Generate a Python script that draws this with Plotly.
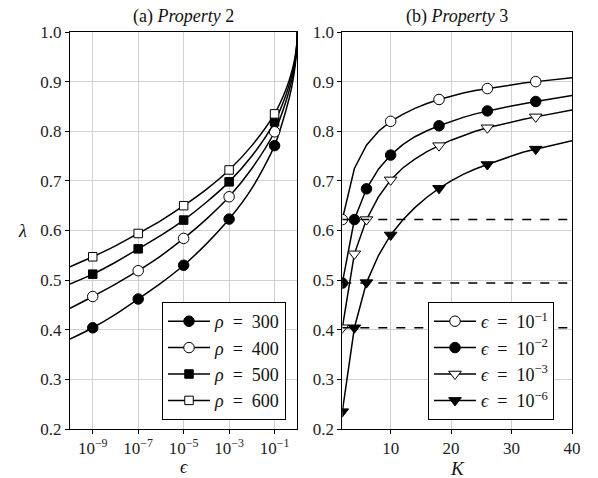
import plotly.graph_objects as go

# ---------------- data: panel (a) ----------------
eps_exp = [-10, -9, -8, -7, -6, -5, -4, -3, -2, -1, -0.5, -0.25, -0.1, -0.02, 0]
rho_labels = ["300", "400", "500", "600"]
lam_rho300 = [0.381, 0.404, 0.431, 0.462, 0.494, 0.530, 0.573, 0.623, 0.685, 0.771, 0.842, 0.888, 0.930, 0.968, 1.0]
lam_rho400 = [0.443, 0.467, 0.492, 0.519, 0.549, 0.584, 0.623, 0.668, 0.725, 0.799, 0.860, 0.901, 0.938, 0.972, 1.0]
lam_rho500 = [0.492, 0.512, 0.536, 0.563, 0.590, 0.621, 0.657, 0.698, 0.750, 0.819, 0.873, 0.911, 0.944, 0.975, 1.0]
lam_rho600 = [0.527, 0.547, 0.569, 0.594, 0.620, 0.650, 0.683, 0.722, 0.771, 0.835, 0.884, 0.919, 0.949, 0.977, 1.0]
marker_exp_a = [-9, -7, -5, -3, -1]
xtick_exp = [-9, -7, -5, -3, -1]

# ---------------- data: panel (b) ----------------
K_vals = [2, 4, 6, 8, 10, 12, 14, 16, 18, 20, 22, 24, 26, 28, 30, 32, 34, 36, 38, 40]
eps_labels = ["1", "2", "3", "6"]
lam_eps1 = [0.622, 0.725, 0.772, 0.800, 0.820, 0.834, 0.846, 0.856, 0.864, 0.871, 0.877, 0.882, 0.886, 0.890, 0.894, 0.897, 0.900, 0.903, 0.905, 0.908]
lam_eps2 = [0.494, 0.622, 0.684, 0.724, 0.752, 0.773, 0.789, 0.801, 0.811, 0.820, 0.828, 0.835, 0.841, 0.846, 0.851, 0.856, 0.860, 0.864, 0.868, 0.872]
lam_eps3 = [0.404, 0.553, 0.622, 0.668, 0.702, 0.726, 0.744, 0.759, 0.771, 0.782, 0.791, 0.800, 0.807, 0.813, 0.819, 0.824, 0.829, 0.834, 0.839, 0.843]
lam_eps6 = [0.235, 0.404, 0.495, 0.550, 0.591, 0.621, 0.646, 0.667, 0.685, 0.700, 0.713, 0.724, 0.733, 0.742, 0.750, 0.758, 0.764, 0.770, 0.776, 0.781]
marker_K_eps1 = [2, 10, 18, 26, 34]
marker_K_other = [2, 4, 6, 10, 18, 26, 34]
xticks_b = [10, 20, 30, 40]
yticks = [0.2, 0.3, 0.4, 0.5, 0.6, 0.7, 0.8, 0.9, 1.0]

FONT = "Liberation Serif"
FS = 17
LFS = 18
W, H = 598, 478
SP = "&nbsp;&nbsp;"

# layout geometry (pixels)
axL = (70, 297.3)
axR = (342.3, 572)
ax_top, ax_bot = 32, 429
def px(x): return x / W
def py(y): return 1 - y / H

fig = go.Figure()

styles_a = [
    dict(symbol="circle", size=10.5, color="black"),
    dict(symbol="circle", size=10.5, color="white"),
    dict(symbol="square", size=8.5, color="black"),
    dict(symbol="square", size=8.5, color="white"),
]
series_a = [lam_rho300, lam_rho400, lam_rho500, lam_rho600]
xs_a = [10 ** e for e in eps_exp]

for lam, st, lab in zip(series_a, styles_a, rho_labels):
    fig.add_trace(go.Scatter(x=xs_a, y=lam, mode="lines", line=dict(color="black", width=1.5, shape="spline", smoothing=0.8),
                             showlegend=False, xaxis="x", yaxis="y", hoverinfo="skip"))
    lookup = dict(zip(eps_exp, lam))
    mx = [10 ** e for e in marker_exp_a]
    my = [lookup[e] for e in marker_exp_a]
    fig.add_trace(go.Scatter(x=mx, y=my, mode="markers", showlegend=False, xaxis="x", yaxis="y",
                             marker=dict(symbol=st["symbol"], size=st["size"], color=st["color"], line=dict(color="black", width=1))))
    fig.add_trace(go.Scatter(x=[None], y=[None], mode="lines+markers", name=f"<i>ρ</i>{SP}={SP}{lab}",
                             line=dict(color="black", width=1.5), legend="legend", xaxis="x", yaxis="y",
                             marker=dict(symbol=st["symbol"], size=st["size"], color=st["color"], line=dict(color="black", width=1))))

styles_b = [
    dict(symbol="circle", size=10.5, color="white"),
    dict(symbol="circle", size=10.5, color="black"),
    dict(symbol="triangle-down", size=11, color="white"),
    dict(symbol="triangle-down", size=11, color="black"),
]
series_b = [lam_eps1, lam_eps2, lam_eps3, lam_eps6]
markers_b = [marker_K_eps1, marker_K_other, marker_K_other, marker_K_other]

for lam, st, lab, mk in zip(series_b, styles_b, eps_labels, markers_b):
    fig.add_trace(go.Scatter(x=K_vals, y=lam, mode="lines", line=dict(color="black", width=1.5),
                             showlegend=False, xaxis="x2", yaxis="y2", hoverinfo="skip"))
    lookup = dict(zip(K_vals, lam))
    fig.add_trace(go.Scatter(x=mk, y=[lookup[k] for k in mk], mode="markers", showlegend=False, xaxis="x2", yaxis="y2",
                             marker=dict(symbol=st["symbol"], size=st["size"], color=st["color"], line=dict(color="black", width=1))))
    fig.add_trace(go.Scatter(x=[None], y=[None], mode="lines+markers", name=f"<i>ϵ</i>{SP}={SP}10<sup>−{lab}</sup>",
                             line=dict(color="black", width=1.5), legend="legend2", xaxis="x2", yaxis="y2",
                             marker=dict(symbol=st["symbol"], size=st["size"], color=st["color"], line=dict(color="black", width=1))))

# dashed reference levels: K=2 values of the first three series
for lam in series_b[:3]:
    fig.add_trace(go.Scatter(x=[K_vals[0], K_vals[-1]], y=[lam[0], lam[0]], mode="lines",
                             line=dict(color="black", width=1.5, dash="dash"), showlegend=False,
                             xaxis="x2", yaxis="y2", hoverinfo="skip"))

axis_common = dict(showline=True, linecolor="black", linewidth=1, mirror=True, ticks="outside",
                   ticklen=4, tickcolor="black", tickwidth=1, showgrid=True, gridcolor="#d0d0d0", gridwidth=1,
                   zeroline=False, automargin=False, tickfont=dict(family=FONT, size=FS, color="#222"))

legend_common = dict(xanchor="left", yanchor="top", bgcolor="white", bordercolor="black",
                     borderwidth=1, itemwidth=42, font=dict(family=FONT, size=LFS, color="#111"))

def label(text, x, y, size):
    return dict(text=text, x=px(x), y=py(y), xref="paper", yref="paper", xanchor="center", yanchor="middle",
                showarrow=False, font=dict(family=FONT, size=size, color="#111"))

fig.update_layout(
    width=W, height=H, margin=dict(l=0, r=0, t=0, b=0, autoexpand=False),
    paper_bgcolor="white", plot_bgcolor="white",
    xaxis=dict(axis_common, domain=[px(axL[0]), px(axL[1])], type="log", range=[-10, 0],
               tickvals=[10 ** e for e in xtick_exp], ticktext=[f"10<sup>−{-e}</sup>" for e in xtick_exp]),
    yaxis=dict(axis_common, domain=[py(ax_bot), py(ax_top)], range=[0.2, 1.0], tickvals=yticks,
               ticktext=[f"{v:.1f}" for v in yticks], anchor="x"),
    xaxis2=dict(axis_common, domain=[px(axR[0]), px(axR[1])], range=[2, 40], tickvals=xticks_b, anchor="y2"),
    yaxis2=dict(axis_common, domain=[py(ax_bot), py(ax_top)], range=[0.2, 1.0], tickvals=yticks,
                ticktext=[f"{v:.1f}" for v in yticks], anchor="x2"),
    legend=dict(legend_common, x=px(162), y=py(302)),
    legend2=dict(legend_common, x=px(428), y=py(302)),
    annotations=[
        label("(a) <i>Property</i> 2", (axL[0] + axL[1]) / 2, 17, LFS),
        label("(b) <i>Property</i> 3", (axR[0] + axR[1]) / 2, 17, LFS),
        label("<i>ϵ</i>", (axL[0] + axL[1]) / 2, 467, FS + 1),
        label("<i>K</i>", (axR[0] + axR[1]) / 2, 468, FS + 2),
        label("<i>λ</i>", 22, 231, FS + 1),
    ],
)

fig.write_html("out.html")
